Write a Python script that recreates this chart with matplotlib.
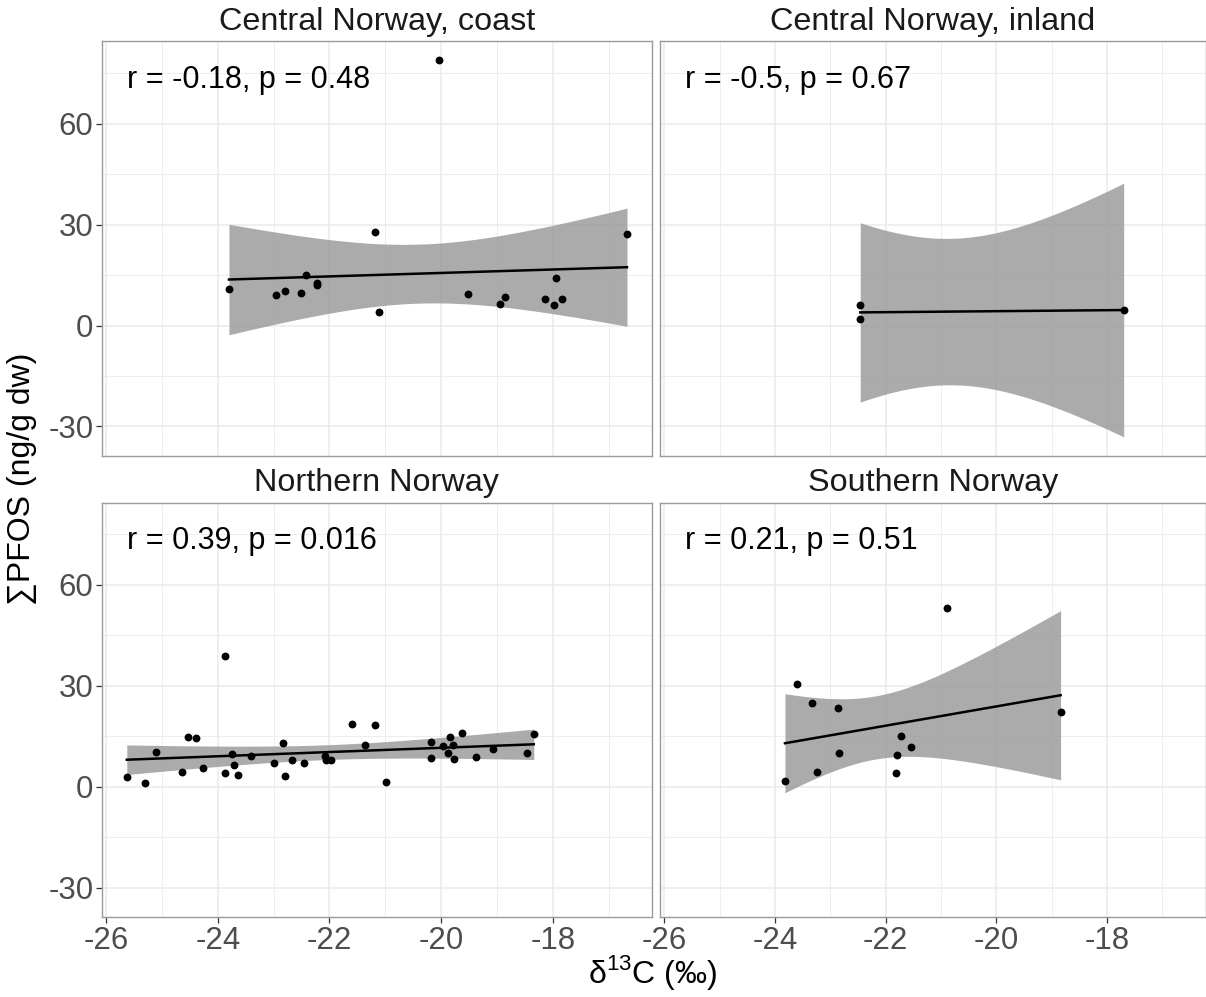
import math
import numpy as np
import matplotlib
matplotlib.use("Agg")
import matplotlib.pyplot as plt
from matplotlib.ticker import MultipleLocator, FixedLocator

plt.rcParams['font.family'] = ['Liberation Sans', 'DejaVu Sans']
plt.rcParams['mathtext.fontset'] = 'custom'
plt.rcParams['mathtext.rm'] = 'Liberation Sans'
plt.rcParams['axes.unicode_minus'] = False

# ---------------- data ----------------
facets = ["Central Norway, coast", "Central Norway, inland",
          "Northern Norway", "Southern Norway"]
cor_labels = ["r = -0.18, p = 0.48", "r = -0.5, p = 0.67",
              "r = 0.39, p = 0.016", "r = 0.21, p = 0.51"]

coast_x = [-23.80, -22.95, -22.79, -22.51, -22.42, -22.23, -22.23, -21.18, -21.11,
           -20.04, -19.51, -18.95, -18.86, -18.13, -17.94, -17.97, -17.83, -16.67]
coast_y = [10.8, 9.1, 10.2, 9.8, 14.9, 12.7, 12.1, 27.8, 3.9,
           78.9, 9.3, 6.3, 8.5, 7.9, 14.2, 6.2, 8.0, 27.2]

inland_x = [-22.46, -22.46, -17.70]
inland_y = [6.0, 1.8, 4.6]

north_x = [-25.63, -25.30, -25.10, -24.64, -24.54, -24.39, -24.27, -23.87, -23.87,
           -23.75, -23.71, -23.63, -23.41, -22.99, -22.84, -22.79, -22.67, -22.45,
           -22.08, -22.07, -21.98, -21.59, -21.37, -21.18, -20.99, -20.18, -20.18,
           -19.97, -19.84, -19.88, -19.78, -19.77, -19.62, -19.38, -19.07, -18.46,
           -18.34]
north_y = [3.0, 1.3, 10.3, 4.3, 14.7, 14.5, 5.5, 39.0, 4.2,
           9.8, 6.5, 3.5, 9.2, 7.2, 13.0, 3.1, 7.9, 7.2,
           9.2, 8.0, 8.1, 18.7, 12.6, 18.5, 1.6, 13.4, 8.6,
           12.2, 14.9, 10.0, 12.4, 8.2, 15.9, 8.8, 11.4, 10.0,
           15.7]

south_x = [-23.82, -23.61, -23.33, -23.24, -22.86, -22.84, -21.82, -21.79,
           -21.72, -21.54, -20.89, -18.84]
south_y = [1.9, 30.7, 25.0, 4.3, 23.4, 10.1, 4.1, 9.6,
           15.2, 12.0, 53.1, 22.3]

xs = [coast_x, inland_x, north_x, south_x]
ys = [coast_y, inland_y, north_y, south_y]

x_ticks = [-26, -24, -22, -20, -18]
y_ticks = [-30, 0, 30, 60]


# ---------------- helpers ----------------
def t_pdf(t, df):
    c = math.exp(math.lgamma((df + 1) / 2) - math.lgamma(df / 2)) / math.sqrt(df * math.pi)
    return c * (1 + t * t / df) ** (-(df + 1) / 2)


def t_cdf(t, df):
    grid = np.linspace(0, t, 4001)
    vals = np.array([t_pdf(g, df) for g in grid])
    return 0.5 + np.trapezoid(vals, grid)


def t_ppf(p, df):
    lo, hi = 0.0, 100.0
    for _ in range(60):
        mid = (lo + hi) / 2
        if t_cdf(mid, df) < p:
            lo = mid
        else:
            hi = mid
    return (lo + hi) / 2


def lm_fit(x, y, n_out=80):
    x = np.asarray(x, float)
    y = np.asarray(y, float)
    n = len(x)
    b, a = np.polyfit(x, y, 1)
    res = y - (a + b * x)
    s = math.sqrt(np.sum(res ** 2) / (n - 2))
    xm = x.mean()
    sxx = np.sum((x - xm) ** 2)
    xg = np.linspace(x.min(), x.max(), n_out)
    yg = a + b * xg
    se = s * np.sqrt(1 / n + (xg - xm) ** 2 / sxx)
    tq = t_ppf(0.975, n - 2)
    return xg, yg, yg - tq * se, yg + tq * se


fits = [lm_fit(x, y) for x, y in zip(xs, ys)]

# shared scales (ggplot style 5% expansion)
all_x = np.concatenate([np.asarray(x, float) for x in xs])
xmin, xmax = all_x.min(), all_x.max()
xr = xmax - xmin
xlim = (xmin - 0.05 * xr, xmax + 0.05 * xr)
all_y = np.concatenate([np.asarray(y, float) for y in ys] +
                       [f[2] for f in fits] + [f[3] for f in fits])
ymin, ymax = all_y.min(), all_y.max()
yr = ymax - ymin
ylim = (ymin - 0.05 * yr, ymax + 0.05 * yr)

# ---------------- figure ----------------
W, H = 1206, 997
fig = plt.figure(figsize=(W / 100, H / 100), dpi=100)
fig.patch.set_facecolor('white')

lefts = [101.8, 660.0]
rights = [652.0, 1205.5]
tops = [41.5, 502.5]
bottoms = [455.7, 917.3]

border_col = '#9A9A9A'
grid_col = '#EBEBEB'
tick_col = '#4D4D4D'
FS = 22.5

for i in range(4):
    r, c = divmod(i, 2)
    l, rr = lefts[c], rights[c]
    t, b = tops[r], bottoms[r]
    ax = fig.add_axes([l / W, 1 - b / H, (rr - l) / W, (b - t) / H])
    ax.set_xlim(*xlim)
    ax.set_ylim(*ylim)
    ax.set_axisbelow(True)
    ax.xaxis.set_major_locator(FixedLocator(x_ticks))
    ax.yaxis.set_major_locator(FixedLocator(y_ticks))
    ax.xaxis.set_minor_locator(MultipleLocator(1))
    ax.yaxis.set_minor_locator(FixedLocator([-45, -15, 15, 45, 75]))
    ax.grid(which='major', color=grid_col, linewidth=1.1)
    ax.grid(which='minor', color=grid_col, linewidth=0.6)
    for sp in ax.spines.values():
        sp.set_color(border_col)
        sp.set_linewidth(1.0)
    ax.tick_params(which='minor', length=0)
    ax.tick_params(which='major', length=4, width=0.9, color='#333333',
                   labelsize=FS, labelcolor=tick_col, pad=2)
    if r == 0:
        ax.tick_params(axis='x', which='major', length=0, labelbottom=False)
    if c == 1:
        ax.tick_params(axis='y', which='major', length=0, labelleft=False)

    xg, yg, lo, hi = fits[i]
    ax.fill_between(xg, lo, hi, color='#999999', alpha=0.82, linewidth=0, zorder=2)
    ax.plot(xg, yg, color='black', linewidth=1.8, zorder=3)
    ax.scatter(xs[i], ys[i], s=32, color='black', linewidths=0, zorder=4)

    ax.text(xmin, 0.906, cor_labels[i], transform=ax.get_xaxis_transform(),
            ha='left', va='center', fontsize=22, color='black')
    ax.text(0.5, 1 + 19.5 / (b - t), facets[i], transform=ax.transAxes,
            ha='center', va='center', fontsize=23.3, color='#1A1A1A')

fig.text(22 / W, 1 - 479 / H, '\u2211PFOS (ng/g dw)', rotation=90,
         ha='center', va='center', fontsize=23, color='black')
fig.text(653 / W, 1 - 972 / H, '\u03b4$^{\\mathregular{13}}$C (\u2030)',
         ha='center', va='center', fontsize=23, color='black')

fig.savefig('out.png', dpi=100, facecolor='white')
